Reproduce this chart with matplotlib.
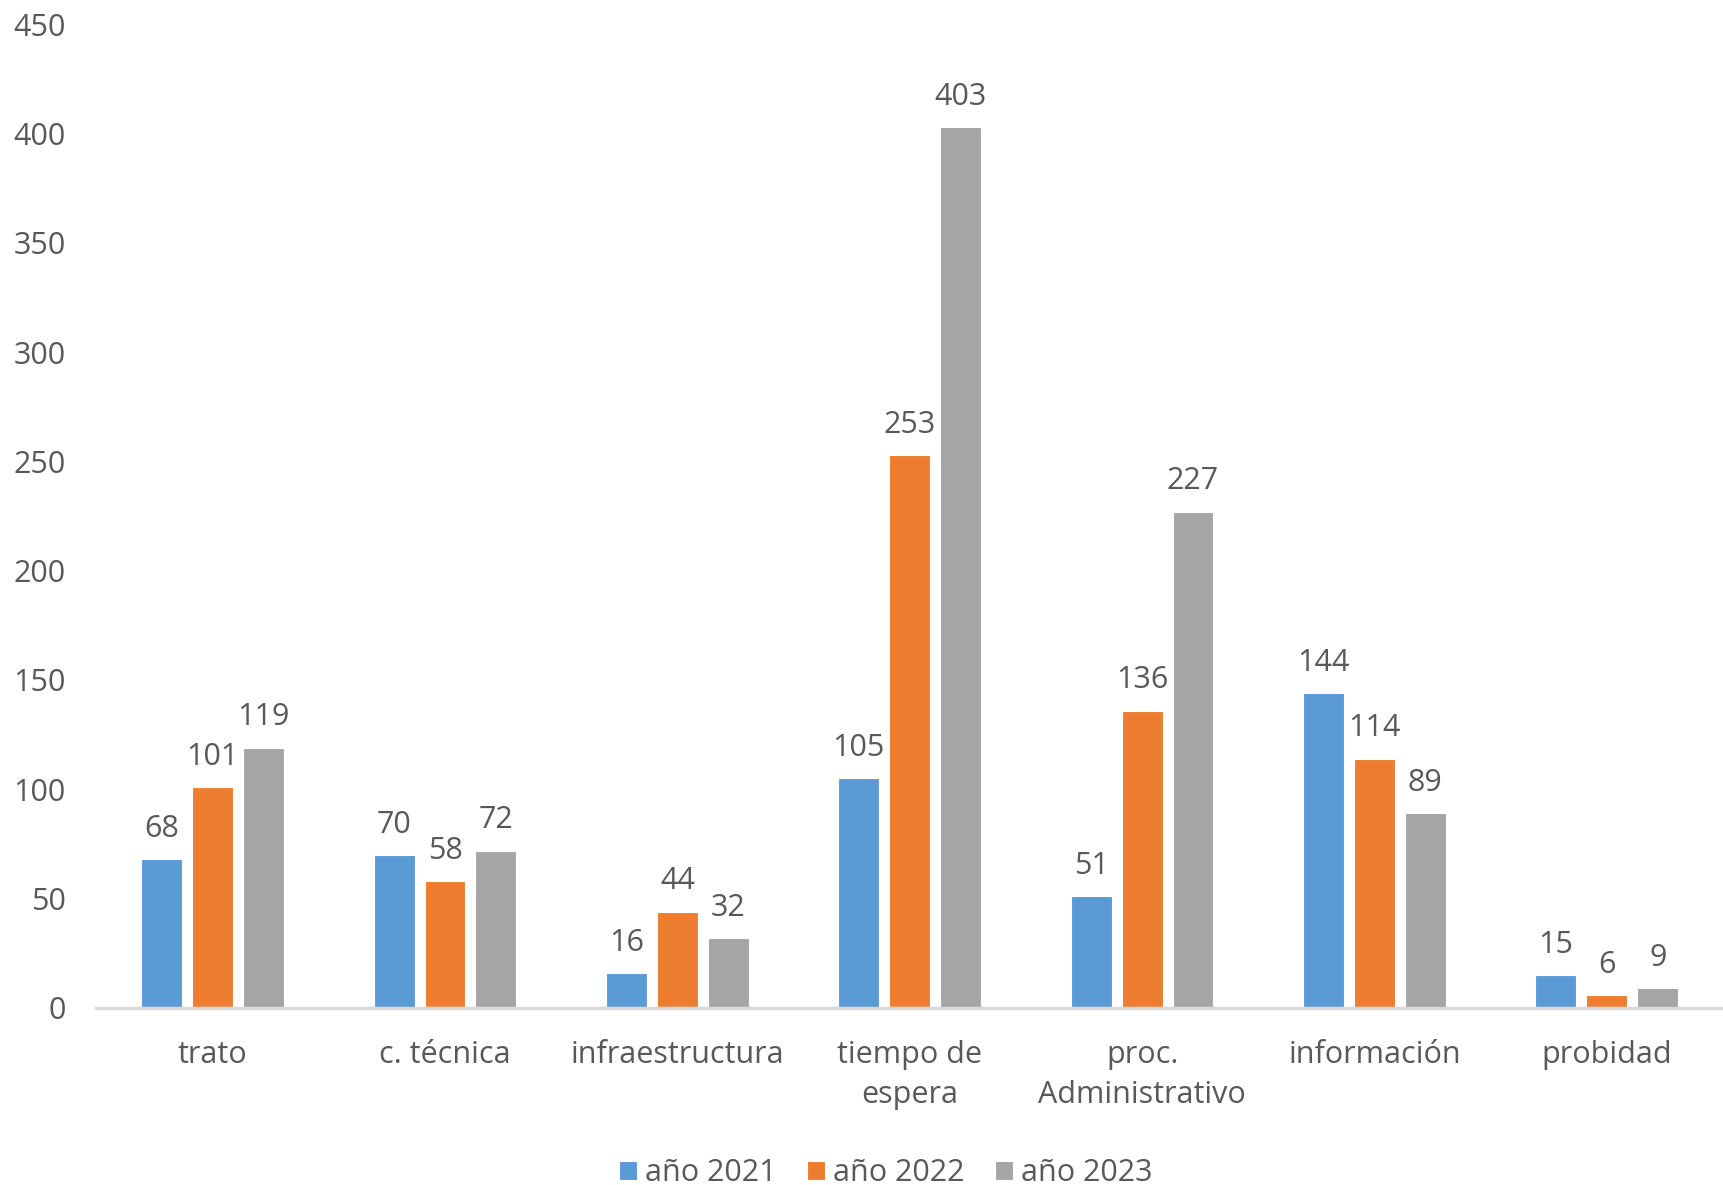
import matplotlib.pyplot as plt
import numpy as np

categorias = ["trato", "c. técnica", "infraestructura", "tiempo de\nespera",
              "proc.\nAdministrativo", "información", "probidad"]
anio_2021 = [68, 70, 16, 105, 51, 144, 15]
anio_2022 = [101, 58, 44, 253, 136, 114, 6]
anio_2023 = [119, 72, 32, 403, 227, 89, 9]
series = ["año 2021", "año 2022", "año 2023"]
colores = ["#5B9BD5", "#ED7D31", "#A5A5A5"]

plt.rcParams['font.family'] = ['Open Sans', 'DejaVu Sans']
txt = "#595959"
fs = 22

fig = plt.figure(figsize=(17.23, 11.85), dpi=100)
ax = fig.add_axes([0.056, 0.1494, 0.944, 0.8303])

x = np.arange(len(categorias))
w = 0.176
paso = 0.219
for k, (vals, nom, col) in enumerate(zip([anio_2021, anio_2022, anio_2023], series, colores)):
    bars = ax.bar(x + (k - 1) * paso, vals, w, color=col, label=nom,
                  edgecolor="white", linewidth=0.8)
    ax.bar_label(bars, labels=[str(v) for v in vals], padding=11,
                 fontsize=fs, color=txt)

ax.set_xlim(-0.5, len(categorias) - 0.5)
ax.set_ylim(0, 450)
ax.set_yticks(np.arange(0, 451, 50))
ax.set_xticks(x)
ax.set_xticklabels(categorias, linespacing=1.42)
ax.tick_params(axis='both', length=0, labelsize=fs, colors=txt)
ax.tick_params(axis='x', pad=23)
ax.tick_params(axis='y', pad=22)
for s in ['top', 'right', 'left']:
    ax.spines[s].set_visible(False)
ax.spines['bottom'].set_color("#D9D9D9")
ax.spines['bottom'].set_linewidth(2.5)

leg = fig.legend(loc='center', bbox_to_anchor=(0.514, 0.010), ncol=3,
                 frameon=False, fontsize=fs, handlelength=0.6, handleheight=0.6,
                 handletextpad=0.25, columnspacing=1.0)
for t in leg.get_texts():
    t.set_color(txt)

fig.savefig("out.png", dpi=100)
